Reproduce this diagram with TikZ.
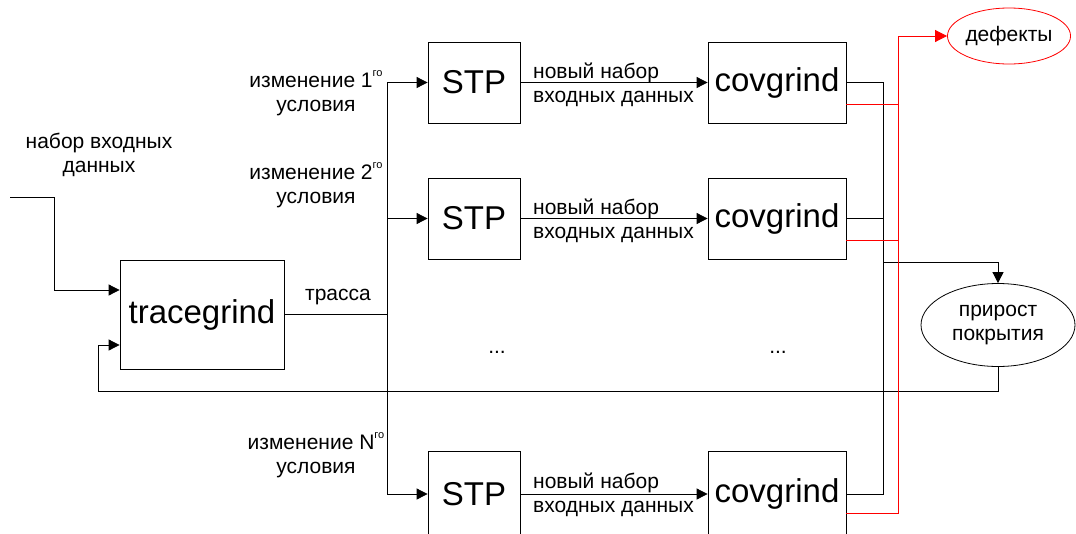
\documentclass[tikz,border=0pt]{standalone}
\usepackage{fontspec}
\setmainfont{Liberation Sans}
\usetikzlibrary{arrows.meta,calc,shapes.geometric}
\newcommand{\supgo}{\raisebox{0.5em}{\fontsize{11}{12}\selectfont го}}
\begin{document}
\begin{tikzpicture}[x=1pt,y=-1pt,
  box/.style={draw,line width=0.8pt,inner sep=0pt,font=\fontsize{33}{38}\selectfont},
  stpbox/.style={box,minimum width=92pt,minimum height=81pt},
  covbox/.style={box,minimum width=138pt,minimum height=81pt},
  lbl/.style={font=\fontsize{21}{24}\selectfont,align=center,inner sep=0pt},
  lblleft/.style={lbl,align=left,anchor=west},
  conn/.style={line width=0.8pt},
  arr/.style={conn,-{Triangle[length=11pt,width=11pt]}},
  rconn/.style={conn,red},
  rarr/.style={rconn,-{Triangle[length=12pt,width=12pt]}}]
\useasboundingbox (0,0) rectangle (1076,533);

% boxes
\node[box,minimum width=164pt,minimum height=109pt] (trace) at (202,314.5) {tracegrind};
\node[stpbox] (stp1) at (474,82.5) {STP};
\node[stpbox] (stp2) at (474,218.5) {STP};
\node[stpbox,minimum height=86pt] (stp3) at (474,494) {STP};
\node[covbox] (cov1) at (777,82.5) {covgrind};
\node[covbox] (cov2) at (777,218.5) {covgrind};
\node[covbox,minimum height=86pt] (cov3) at (777,494) {covgrind};
\node[ellipse,draw=red,line width=0.8pt,minimum width=118pt,minimum height=56pt,inner sep=0pt,
      font=\fontsize{21}{24}\selectfont] (def) at (1009,36) {дефекты};
\node[ellipse,draw,line width=0.8pt,minimum width=154pt,minimum height=83pt,inner sep=0pt,
      lbl] (gain) at (998,325) {прирост\\покрытия};

% labels
\node[lbl] (linp) at (99,155) {набор входных\\данных};
\node[lbl] (ltr) at (338,297) {трасса};
\node[lbl] (lc1) at (316,93) {изменение 1\supgo\\условия};
\node[lbl] (lc2) at (316,185) {изменение 2\supgo\\условия};
\node[lbl] (lc3) at (316,455) {изменение N\supgo\\условия};
\node[lblleft] (ln1) at (533,85) {новый набор\\входных данных};
\node[lblleft] (ln2) at (533,221) {новый набор\\входных данных};
\node[lblleft] (ln3) at (533,495) {новый набор\\входных данных};
\node[lbl] (dots1) at (497,352) {...};
\node[lbl] (dots2) at (778,352) {...};

% coordinates
\coordinate (inp) at (10,197);
\coordinate (inpc) at (54,290);
\coordinate (trunk) at (387,314.5);
\coordinate (bbot) at (883,494);
\coordinate (bj) at (883,262);
\coordinate (fb) at (98,391);
\coordinate (rx) at (898,0);
\coordinate (r1) at ($(cov1.east)+(0,21.5)$);
\coordinate (r2) at ($(cov2.east)+(0,21.5)$);
\coordinate (r3) at ($(cov3.east)+(0,19)$);
\coordinate (r1e) at (rx |- r1);
\coordinate (r2e) at (rx |- r2);
\coordinate (rtop) at (rx |- def.west);
\coordinate (fbin) at ($(trace.west)+(0,30.5)$);

% input
\draw[arr] (inp) -| (inpc) -- (trace.west |- inpc);
% trace out
\draw[conn] (trace.east) -- (trunk);
\draw[arr] (trunk) |- (stp1.west);
\draw[arr] (trunk) |- (stp2.west);
\draw[arr] (trunk) |- (stp3.west);
% STP -> covgrind
\draw[arr] (stp1) -- (cov1);
\draw[arr] (stp2) -- (cov2);
\draw[arr] (stp3) -- (cov3);
% black outputs
\draw[conn] (cov1.east) -| (bbot) -- (cov3.east);
\draw[conn] (cov2.east) -- (cov2.east -| bbot);
\draw[arr] (bj) -| (gain.north);
% feedback
\draw[arr] (gain.south) |- (fb) |- (fbin);
% red outputs
\draw[rarr] (r3) -| (rtop) -- (def.west);
\draw[rconn] (r1) -- (r1e);
\draw[rconn] (r2) -- (r2e);
\end{tikzpicture}
\end{document}
